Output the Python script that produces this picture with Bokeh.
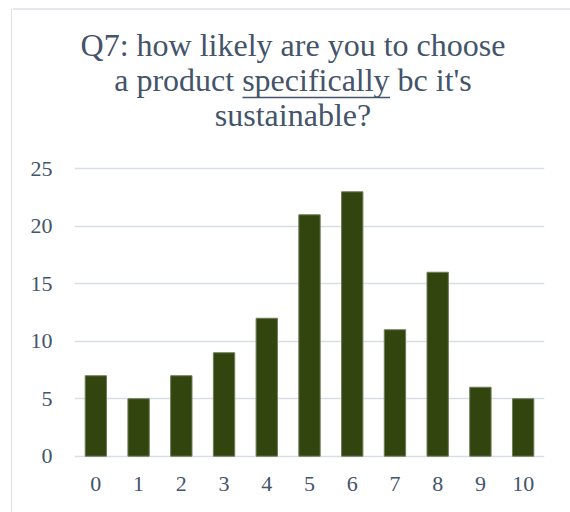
from bokeh.plotting import figure
from bokeh.layouts import row, column
from bokeh.models import FactorRange, Range1d, ColumnDataSource, FixedTicker, Label
from bokeh.embed import file_html
from bokeh.resources import INLINE

# Survey answers: how many respondents picked each score on the 0-10 scale
scores = ["0", "1", "2", "3", "4", "5", "6", "7", "8", "9", "10"]
counts = [7, 5, 7, 9, 12, 21, 23, 11, 16, 6, 5]
y_ticks = [0, 5, 10, 15, 20, 25]
title_lines = [
    "Q7: how likely are you to choose",
    "a product specifically bc it's",
    "sustainable?",
]

TEXT = "#44546a"
GRID = "#d9dee6"
FRAME = "#dde2e8"
BAR = "#32450f"
SERIF = "Liberation Serif"

W, H = 570, 512
STRIP_W = 12          # left strip that carries the chart frame line
TITLE_H = 140         # height of the title band
MAIN_W = W - STRIP_W
CHART_H = H - TITLE_H


def blank(width, height, x0, x1, y0, y1):
    """A figure with no axes whose plotting area fills the whole canvas."""
    f = figure(width=width, height=height, x_range=Range1d(x0, x1),
               y_range=Range1d(y0, y1), output_backend="svg",
               toolbar_location=None, title=None, min_border=0,
               x_axis_location=None, y_axis_location=None,
               frame_align=False)
    f.grid.grid_line_color = None
    f.outline_line_color = None
    f.background_fill_color = "white"
    f.border_fill_color = "white"
    return f


# ---- left strip: vertical frame line ----
strip = blank(STRIP_W, H, 0, STRIP_W, H, 0)
strip.segment(x0=[11.25], y0=[8.5], x1=[11.25], y1=[H + 5],
              line_color=FRAME, line_width=1.5)
strip.segment(x0=[11.25], y0=[8.5], x1=[STRIP_W + 1], y1=[8.5],
              line_color=FRAME, line_width=1.5)

# ---- title band ----
head = blank(MAIN_W, TITLE_H, 0, MAIN_W, TITLE_H, 0)
head.segment(x0=[-1], y0=[8.5], x1=[MAIN_W + 1], y1=[8.5],
             line_color=FRAME, line_width=1.5)
for i, line in enumerate(title_lines):
    head.add_layout(Label(
        x=280.5, y=44 + 35 * i, text=line,
        text_align="center", text_baseline="alphabetic",
        text_font=SERIF, text_font_size="32px", text_color=TEXT,
    ))
# underline beneath "specifically"
head.segment(x0=[230], y0=[97], x1=[377.5], y1=[97],
             line_color=TEXT, line_width=1.5)

# ---- bar chart ----
source = ColumnDataSource(dict(score=scores, count=counts))

p = figure(
    width=MAIN_W, height=CHART_H,
    x_range=FactorRange(*scores, range_padding=0),
    y_range=Range1d(-0.2, 25.2),
    output_backend="svg", toolbar_location=None, title=None,
    min_border_left=62, min_border_right=26,
    min_border_top=26, min_border_bottom=54,
    frame_align=False,
)
p.outline_line_color = None
p.background_fill_color = "white"
p.border_fill_color = "white"

p.vbar(x="score", top="count", width=0.5, source=source,
       fill_color=BAR, line_color="#6f7d5a", line_width=1)

for ax in (p.xaxis[0], p.yaxis[0]):
    ax.axis_line_color = None
    ax.major_tick_line_color = None
    ax.minor_tick_line_color = None
    ax.major_tick_out = 0
    ax.major_tick_in = 0
    ax.major_label_text_font = SERIF
    ax.major_label_text_font_size = "22px"
    ax.major_label_text_color = TEXT
p.xaxis.major_label_standoff = 18
p.yaxis.major_label_standoff = 22
p.yaxis.ticker = FixedTicker(ticks=y_ticks)

p.xgrid.grid_line_color = None
p.ygrid.grid_line_color = GRID
p.ygrid.grid_line_width = 1.5
p.ygrid.ticker = FixedTicker(ticks=y_ticks)

layout = row(strip, column(head, p, spacing=0), spacing=0)

open("out.html", "w").write(file_html(layout, INLINE))
